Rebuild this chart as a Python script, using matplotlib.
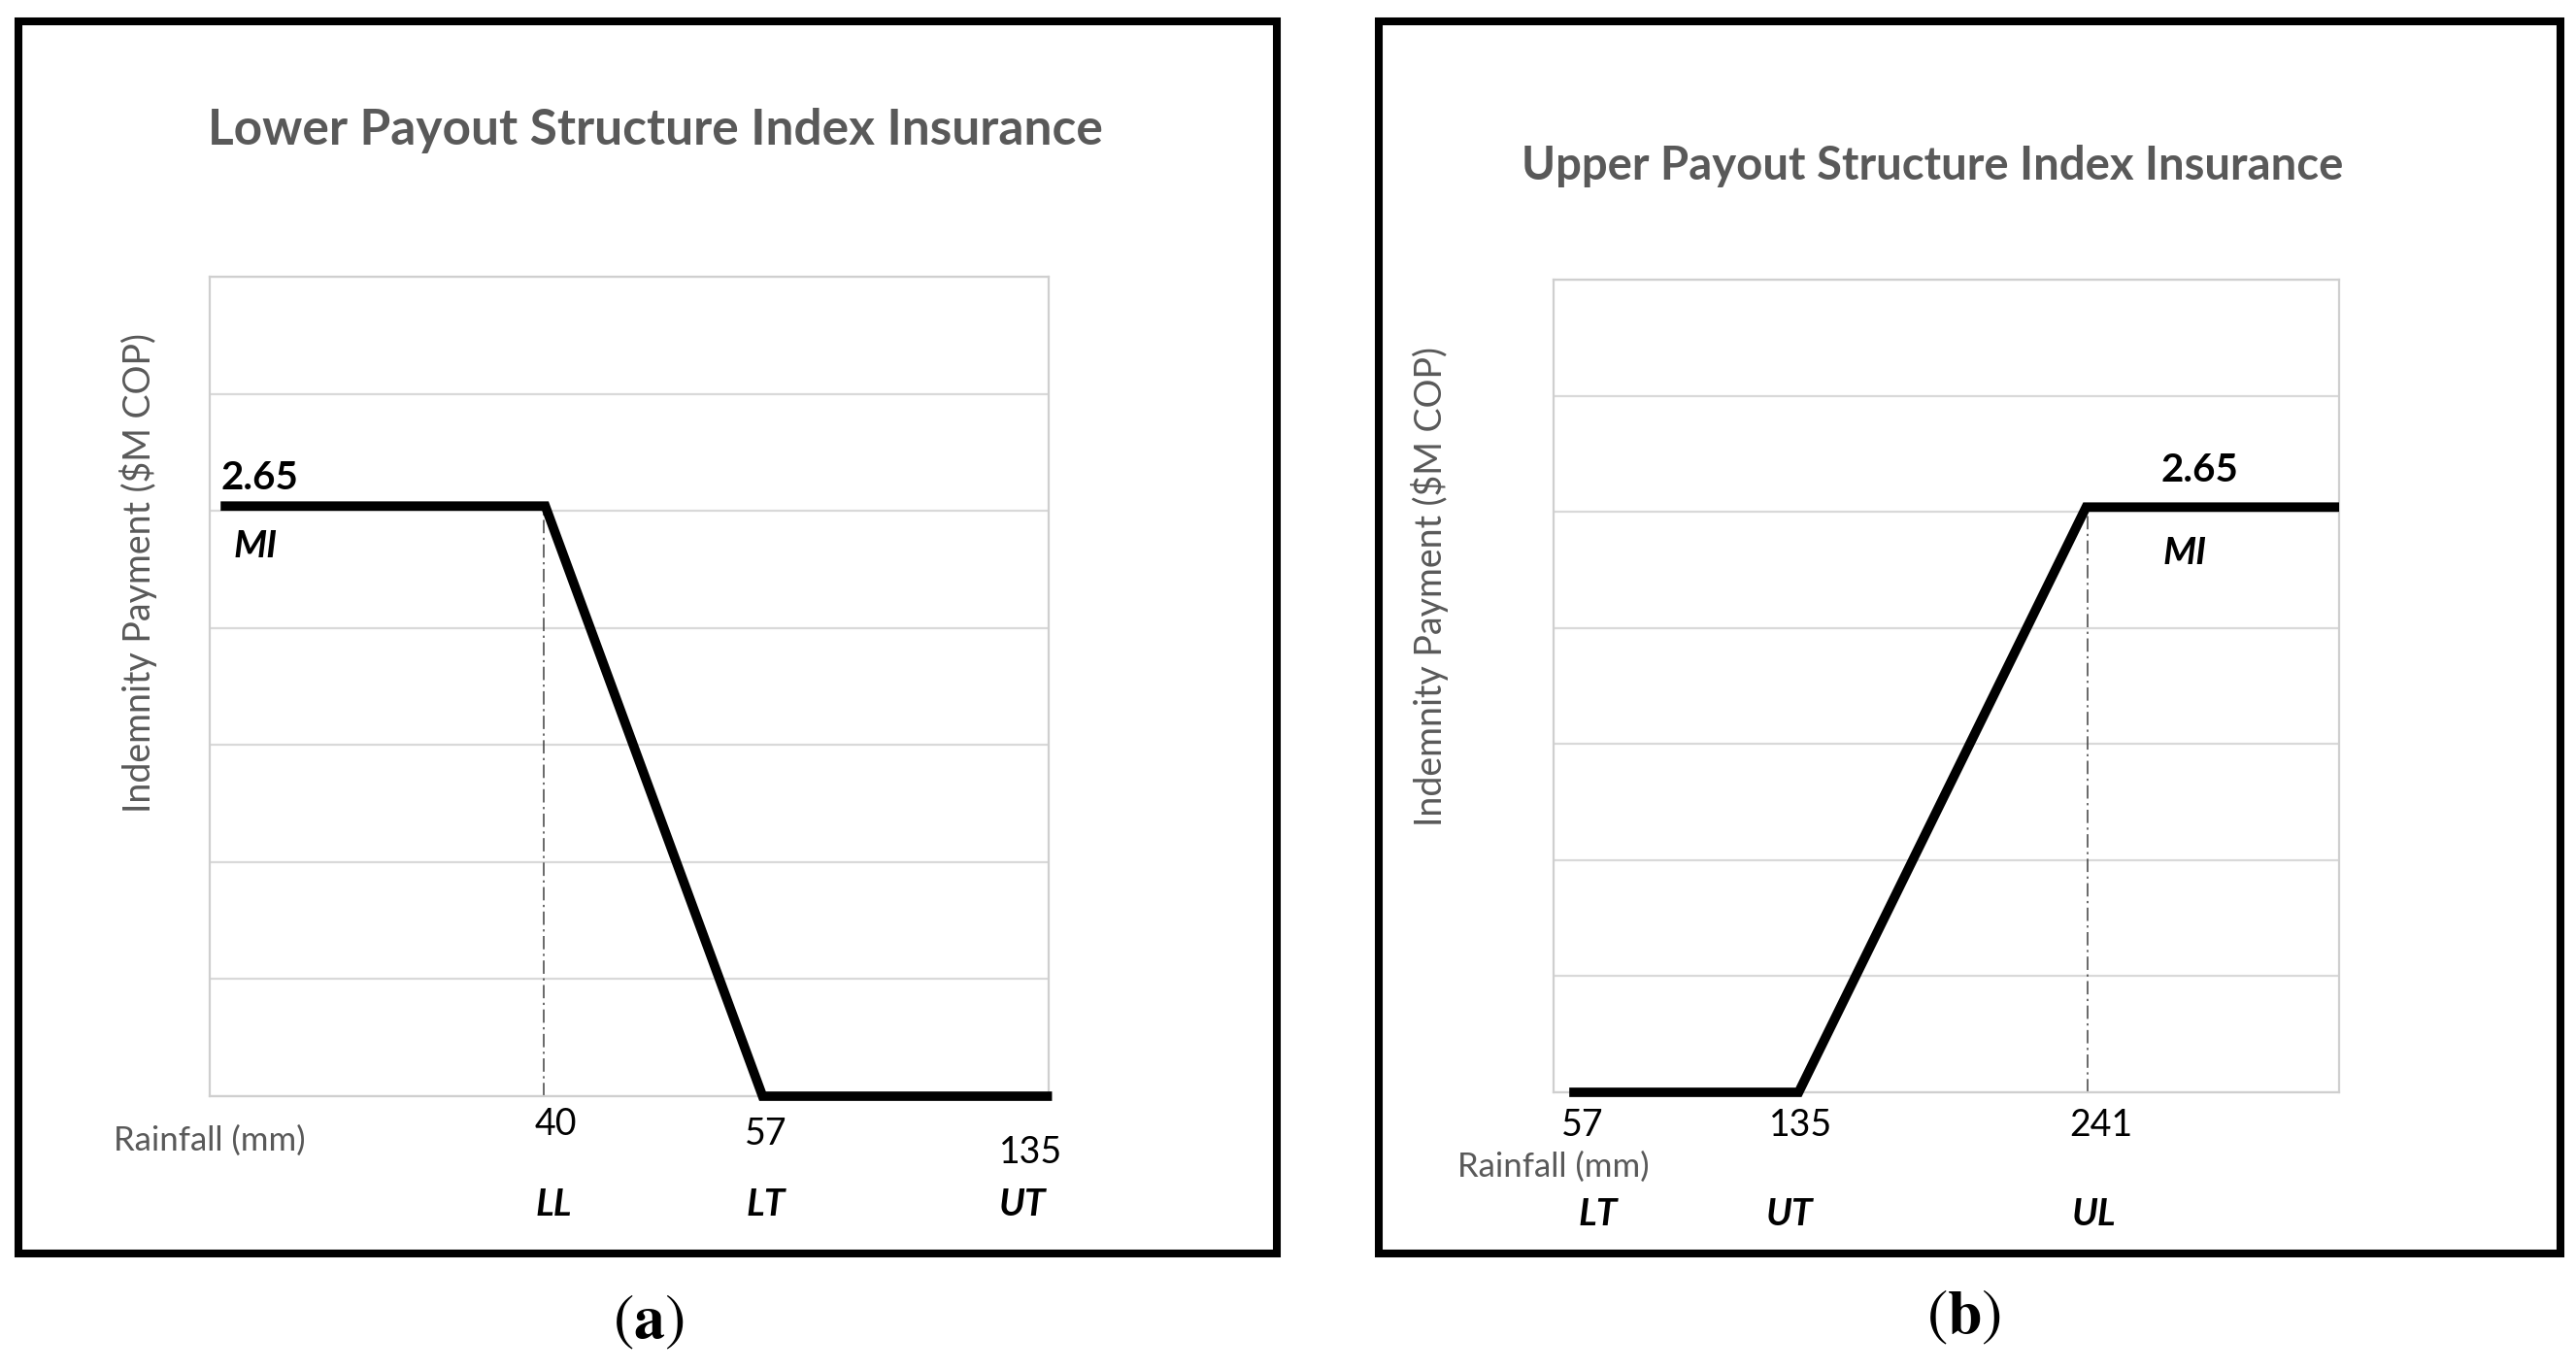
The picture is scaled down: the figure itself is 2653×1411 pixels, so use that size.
import matplotlib
matplotlib.use("Agg")
import matplotlib.pyplot as plt
from matplotlib.patches import Rectangle

# ---------------- data ----------------
pay_max = 2.65
# (a) lower payout structure
rain_a = [40, 57, 135]
codes_a = ["LL", "LT", "UT"]
pay_a = [pay_max, pay_max, 0, 0]          # start, LL, LT, UT
# (b) upper payout structure
rain_b = [57, 135, 241]
codes_b = ["LT", "UT", "UL"]
pay_b = [0, 0, pay_max, pay_max]          # LT, UT, UL, end

# ---------------- layout (pixels of the 2653x1411 canvas) ----------------
W, H = 2653, 1411
def fx(px): return px / W
def fy(py): return 1 - py / H

# x position of each vertex along the axis (axes fraction)
xpos_a = [0.013, 0.40, 0.659, 1.004]
xpos_b = [0.02, 0.312, 0.678, 1.0]
ymax = 3.68

GRAY = "#595959"
GRID = "#d9d9d9"

plt.rcParams["font.family"] = ["Lato", "DejaVu Sans"]
plt.rcParams["mathtext.fontset"] = "stix"

fig = plt.figure(figsize=(W / 100, H / 100), dpi=100)


def draw_panel(box, frame, xpos, pay, title, title_xy, title_size, ylab_xy,
               val_xy, mi_xy, rain, tick_xy, codes, code_xy, rain_lbl_xy,
               dash_x, letter, letter_xy):
    # outer frame
    x0, y0, x1, y1 = frame
    fig.patches.append(Rectangle((fx(x0), fy(y1)), fx(x1) - fx(x0), fy(y0) - fy(y1),
                                 transform=fig.transFigure, fill=False,
                                 edgecolor="black", linewidth=5.8))

    l, t, r, b = box
    ax = fig.add_axes([fx(l), fy(b), fx(r) - fx(l), fy(t) - fy(b)])
    ax.set_xlim(0, 1)
    ax.set_ylim(0, ymax)
    ax.set_yticks([ymax * i / 7 for i in range(8)])
    ax.set_xticks([])
    ax.tick_params(left=False, labelleft=False)
    ax.grid(axis="y", color=GRID, linewidth=1.6)
    ax.set_axisbelow(True)
    for s in ax.spines.values():
        s.set_color("#cfcfcf")
        s.set_linewidth(1.6)

    # threshold guide line
    ax.plot([dash_x, dash_x], [0, pay_max], color="#404040", linewidth=1.1,
            linestyle=(0, (9, 3, 1.5, 3)))
    # payout line
    ax.plot(xpos, pay, color="black", linewidth=7, solid_joinstyle="miter",
            solid_capstyle="butt", clip_on=False, zorder=3)

    fig.text(fx(title_xy[0]), fy(title_xy[1]), title, ha="center", va="center",
             fontsize=title_size, fontweight="bold", color=GRAY)
    fig.text(fx(ylab_xy[0]), fy(ylab_xy[1]), "Indemnity Payment ($M COP)",
             ha="center", va="center", rotation=90, fontsize=27, color=GRAY)
    fig.text(fx(val_xy[0]), fy(val_xy[1]), f"{pay_max:.2f}", ha="center",
             va="center", fontsize=29, fontweight="bold")
    fig.text(fx(mi_xy[0]), fy(mi_xy[1]), "MI", ha="center", va="center",
             fontsize=28, fontweight="bold", fontstyle="italic")
    for v, (px, py) in zip(rain, tick_xy):
        fig.text(fx(px), fy(py), str(v), ha="center", va="center", fontsize=27)
    for c, (px, py) in zip(codes, code_xy):
        fig.text(fx(px), fy(py), c, ha="center", va="center", fontsize=28,
                 fontweight="bold", fontstyle="italic")
    fig.text(fx(rain_lbl_xy[0]), fy(rain_lbl_xy[1]), "Rainfall (mm)", ha="center",
             va="center", fontsize=25, color=GRAY)
    fig.text(fx(letter_xy[0]), fy(letter_xy[1]), "($\\mathbf{%s}$)" % letter,
             ha="center", va="center", fontsize=46, family="STIXGeneral")


draw_panel(box=(216, 285, 1080, 1129), frame=(19, 22, 1315, 1291),
           xpos=xpos_a, pay=pay_a,
           title="Lower Payout Structure Index Insurance", title_xy=(675, 135),
           title_size=37,
           ylab_xy=(142, 590), val_xy=(267, 492), mi_xy=(263, 563),
           rain=rain_a, tick_xy=[(572, 1158), (789, 1168), (1062, 1187)],
           codes=codes_a, code_xy=[(570, 1240), (789, 1240), (1053, 1240)],
           rain_lbl_xy=(216, 1175), dash_x=0.398,
           letter="a", letter_xy=(668, 1362))

draw_panel(box=(1600, 288, 2409, 1125), frame=(1420, 22, 2637, 1291),
           xpos=xpos_b, pay=pay_b,
           title="Upper Payout Structure Index Insurance", title_xy=(1990, 171),
           title_size=34,
           ylab_xy=(1472, 604), val_xy=(2265, 484), mi_xy=(2250, 570),
           rain=rain_b, tick_xy=[(1630, 1159), (1855, 1159), (2164, 1159)],
           codes=codes_b, code_xy=[(1646, 1251), (1843, 1251), (2157, 1251)],
           rain_lbl_xy=(1600, 1202), dash_x=0.68,
           letter="b", letter_xy=(2023, 1357))

fig.savefig("out.png", dpi=100)
